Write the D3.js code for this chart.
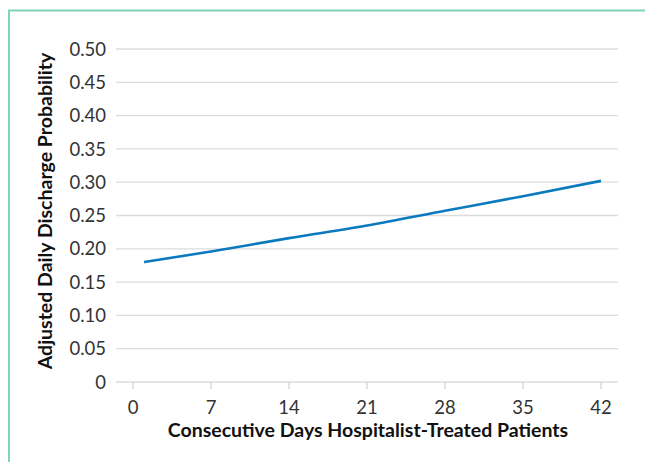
<!DOCTYPE html>
<html><head><meta charset="utf-8">
<script src="https://cdn.jsdelivr.net/npm/d3@7"></script>
<style>body{margin:0;background:#fff}svg{display:block}</style>
</head><body>
<script>
const days = [1, 7, 14, 21, 28, 35, 42];
const probs = [0.180, 0.196, 0.216, 0.235, 0.257, 0.279, 0.302];
const xTicks = [0, 7, 14, 21, 28, 35, 42];
const yTicks = [0, 0.05, 0.10, 0.15, 0.20, 0.25, 0.30, 0.35, 0.40, 0.45, 0.50];
const xTitle = "Consecutive Days Hospitalist-Treated Patients";
const yTitle = "Adjusted Daily Discharge Probability";

const W = 645, H = 462;
const svg = d3.select("body").append("svg").attr("width", W).attr("height", H);
const font = "Lato, 'Open Sans', sans-serif";

// frame border
svg.append("path").attr("d", `M9,${H} V10.5 H${W}`).attr("fill", "none")
  .attr("stroke", "#7fd4b2").attr("stroke-width", 2);

const x = d3.scaleLinear().domain([0, 42]).range([133, 601]);
const y = d3.scaleLinear().domain([0, 0.5]).range([382, 49]);
const gridX0 = 116, gridX1 = 618;

// grid lines
svg.append("g").selectAll("line").data(yTicks).join("line")
  .attr("x1", gridX0).attr("x2", gridX1)
  .attr("y1", d => y(d)).attr("y2", d => y(d))
  .attr("stroke", "#dcdcdc").attr("stroke-width", 1.3);

// y labels
svg.append("g").selectAll("text").data(yTicks).join("text")
  .attr("x", 106).attr("y", d => y(d)).attr("dy", "0.36em")
  .attr("text-anchor", "end").attr("font-family", font).attr("font-size", 18.5)
  .attr("fill", "#333")
  .text(d => d === 0 ? "0" : d.toFixed(2));

// x axis ticks
const xa = svg.append("g");
xa.selectAll("line").data(xTicks).join("line")
  .attr("x1", d => x(d)).attr("x2", d => x(d)).attr("y1", 382).attr("y2", 389)
  .attr("stroke", "#cfcfcf").attr("stroke-width", 1.2);
xa.selectAll("text").data(xTicks).join("text")
  .attr("x", d => x(d)).attr("y", 414).attr("text-anchor", "middle")
  .attr("font-family", font).attr("font-size", 18.5).attr("fill", "#333")
  .text(d => d);

// titles
svg.append("text").attr("x", 368).attr("y", 437).attr("text-anchor", "middle")
  .attr("font-family", font).attr("font-size", 19.5).attr("font-weight", "bold")
  .attr("fill", "#111").text(xTitle);
svg.append("text").attr("transform", "translate(52,211) rotate(-90)")
  .attr("text-anchor", "middle").attr("font-family", font).attr("font-size", 19.5)
  .attr("font-weight", "bold").attr("fill", "#111").text(yTitle);

// line
const line = d3.line().x((d, i) => x(days[i])).y(d => y(d)).curve(d3.curveMonotoneX);
svg.append("path").datum(probs).attr("d", line).attr("fill", "none")
  .attr("stroke", "#0a7abf").attr("stroke-width", 2.6);
</script>
</body></html>
